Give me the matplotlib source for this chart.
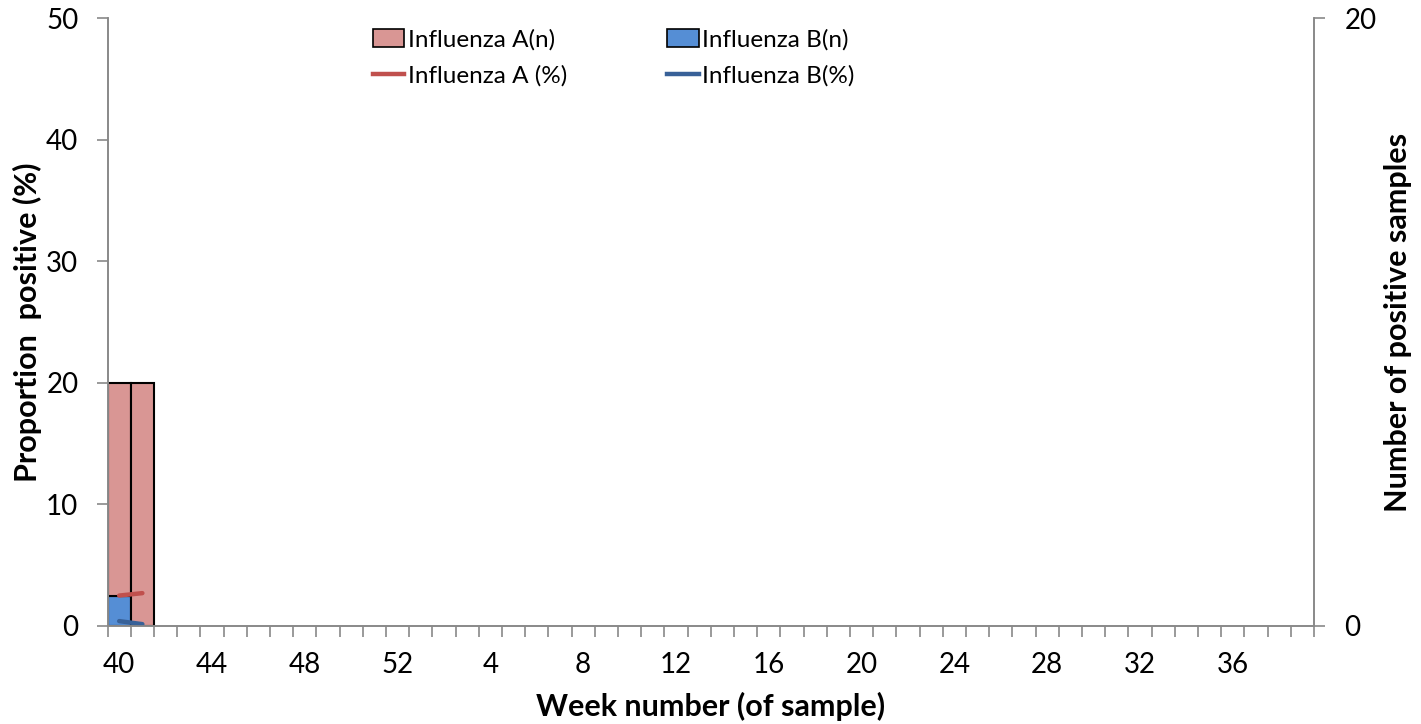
import matplotlib.pyplot as plt
from matplotlib.patches import Patch
from matplotlib.lines import Line2D

plt.rcParams['font.family'] = ['Lato', 'DejaVu Sans']

# weeks of the season, 40..52 then 1..39
weeks = list(range(40, 53)) + list(range(1, 40))
week_labels = [str(w) if i % 4 == 0 else "" for i, w in enumerate(weeks)]

# number of positive samples (right axis), only the first weeks reported
flu_a_n = [7, 8]
flu_b_n = [1, 0]

# proportion positive (%) (left axis)
flu_a_pct = [2.5, 2.7]
flu_b_pct = [0.4, 0.15]

pink = "#D99694"
blue = "#558ED5"
red_line = "#C0504D"
blue_line = "#386198"
grey = "#898989"

fig = plt.figure(figsize=(14.21, 7.24), dpi=100)
ax = fig.add_axes([0.0757, 0.1354, 0.8490, 0.8397])
ax2 = ax.twinx()

x_bar = list(range(len(flu_a_n)))
ax2.bar(x_bar, flu_b_n, width=1.0, color=blue, edgecolor="black", linewidth=1.5)
ax2.bar(x_bar, flu_a_n, width=1.0, bottom=flu_b_n, color=pink,
        edgecolor="black", linewidth=1.5)

x_line = list(range(len(flu_a_pct)))
ax.plot(x_line, flu_a_pct, color=red_line, linewidth=3.2, solid_capstyle="round")
ax.plot(x_line, flu_b_pct, color=blue_line, linewidth=3.2, solid_capstyle="round")

# lines drawn above bars
ax.set_zorder(ax2.get_zorder() + 1)
ax.patch.set_visible(False)

ax.set_xlim(-0.5, len(weeks) - 0.5)
ax.set_ylim(0, 50)
ax2.set_ylim(0, 20)

ax.set_yticks([0, 10, 20, 30, 40, 50])
ax2.set_yticks([0, 20])

# tick marks at category boundaries, labels at centres
ax.set_xticks([i - 0.5 for i in range(len(weeks) + 1)])
ax.set_xticklabels([])
ax.set_xticks(list(range(len(weeks))), minor=True)
ax.set_xticklabels(week_labels, minor=True)
ax.tick_params(axis="x", which="major", length=8, width=1.2, color=grey, direction="out")
ax.tick_params(axis="x", which="minor", length=0, pad=19, labelsize=20)
ax.tick_params(axis="y", length=8, width=1.2, color=grey, labelsize=20, pad=13)
ax2.tick_params(axis="y", length=8, width=1.2, color=grey, labelsize=20, pad=14)

for a in (ax, ax2):
    a.spines["top"].set_visible(False)
    for s in ("left", "right", "bottom"):
        a.spines[s].set_color(grey)
        a.spines[s].set_linewidth(1.2)

ax.set_xlabel("Week number (of sample)", fontsize=22, fontweight="bold", labelpad=10)
ax.set_ylabel("Proportion  positive (%)", fontsize=22, fontweight="bold", labelpad=3)
ax2.set_ylabel("Number of positive samples", fontsize=22, fontweight="bold", labelpad=5)

handles = [
    Patch(facecolor=pink, edgecolor="black", linewidth=1.2),
    Line2D([0], [0], color=red_line, linewidth=3.2),
    Patch(facecolor=blue, edgecolor="black", linewidth=1.2),
    Line2D([0], [0], color=blue_line, linewidth=3.2),
]
labels = ["Influenza A(n)", "Influenza A (%)", "Influenza B(n)", "Influenza B(%)"]
fig.legend(handles, labels, ncol=2, loc="upper left", bbox_to_anchor=(0.247, 0.99),
           frameon=False, fontsize=17.5, handlelength=1.3, handleheight=0.75,
           handletextpad=0.15, columnspacing=4.1, labelspacing=0.6)

fig.savefig("out.png", dpi=100)
plt.close()
